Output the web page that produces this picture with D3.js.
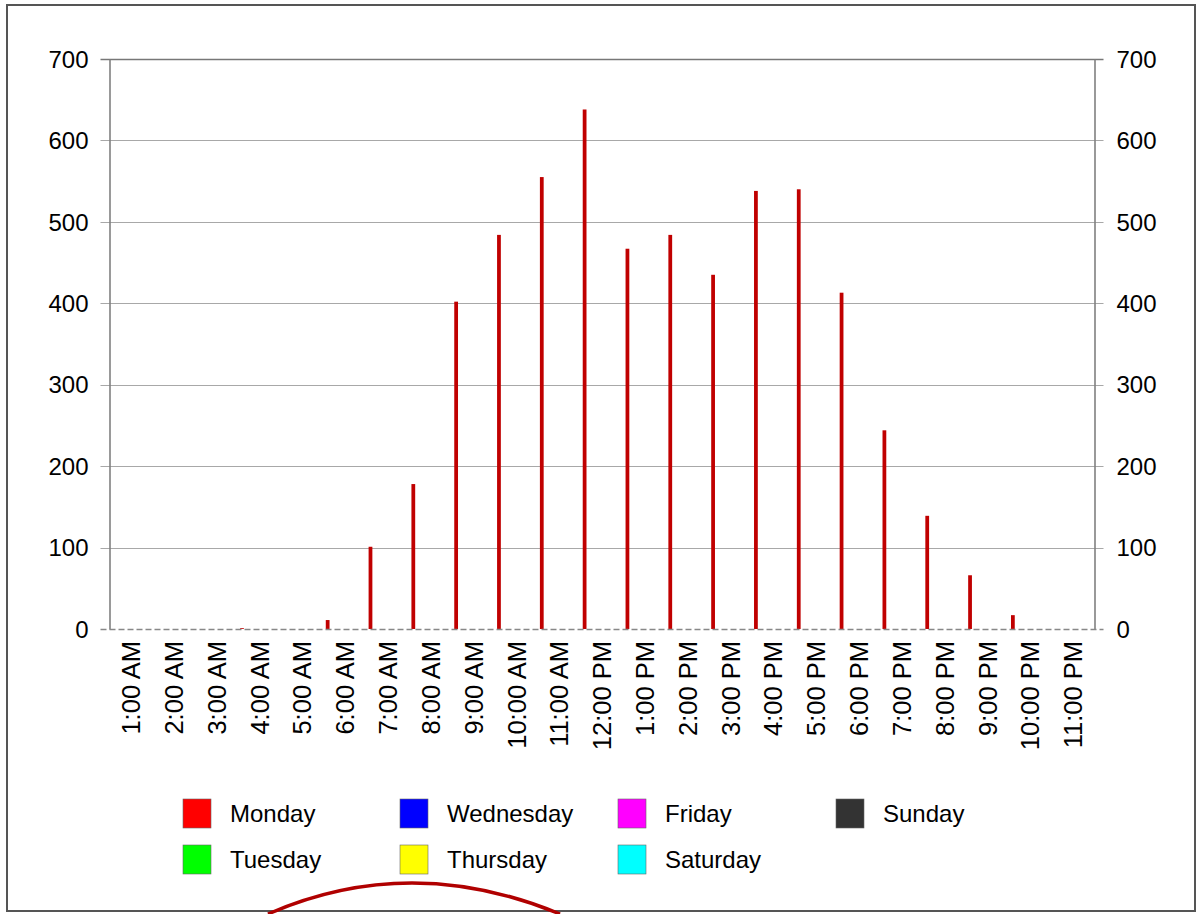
<!DOCTYPE html>
<html>
<head>
<meta charset="utf-8">
<script src="https://cdn.jsdelivr.net/npm/d3@7"></script>
<style>
  html, body { margin: 0; padding: 0; background: #fff; }
  svg text { font-family: "Liberation Sans", Arial, sans-serif; fill: #000; }
</style>
</head>
<body>
<svg id="chart" width="1199" height="914"></svg>
<script>
const hours = ["1:00 AM","2:00 AM","3:00 AM","4:00 AM","5:00 AM","6:00 AM","7:00 AM","8:00 AM","9:00 AM","10:00 AM","11:00 AM","12:00 PM","1:00 PM","2:00 PM","3:00 PM","4:00 PM","5:00 PM","6:00 PM","7:00 PM","8:00 PM","9:00 PM","10:00 PM","11:00 PM"];
const days = ["Monday","Tuesday","Wednesday","Thursday","Friday","Saturday","Sunday"];
const dayColors = ["#ff0000","#00ff00","#0000ff","#ffff00","#ff00ff","#00ffff","#333333"];
const monday    = [0,0,0,1,0,11,101,178,402,484,555,638,467,484,435,538,540,413,244,139,66,17,0];
const tuesday   = [0,0,0,0,0,0,0,0,0,0,0,0,0,0,0,0,0,0,0,0,0,0,0];
const wednesday = [0,0,0,0,0,0,0,0,0,0,0,0,0,0,0,0,0,0,0,0,0,0,0];
const thursday  = [0,0,0,0,0,0,0,0,0,0,0,0,0,0,0,0,0,0,0,0,0,0,0];
const friday    = [0,0,0,0,0,0,0,0,0,0,0,0,0,0,0,0,0,0,0,0,0,0,0];
const saturday  = [0,0,0,0,0,0,0,0,0,0,0,0,0,0,0,0,0,0,0,0,0,0,0];
const sunday    = [0,0,0,0,0,0,0,0,0,0,0,0,0,0,0,0,0,0,0,0,0,0,0];
const yTicks = [0,100,200,300,400,500,600,700];

const seriesValues = [monday,tuesday,wednesday,thursday,friday,saturday,sunday];
const svg = d3.select("#chart");

// outer frame
svg.append("rect").attr("x",7).attr("y",5).attr("width",1188).attr("height",906)
  .attr("fill","none").attr("stroke","#555").attr("stroke-width",2);

const L = 109.5, R = 1094.5, T = 59, B = 629;
const x0 = d3.scaleBand().domain(hours).range([L, R]).paddingInner(0.1).paddingOuter(0.05);
const x1 = d3.scaleBand().domain(days).range([0, x0.bandwidth()]).paddingInner(0.35);
const y = d3.scaleLinear().domain([0,700]).range([B, T]);

// grid
svg.append("g").selectAll("line").data(yTicks.filter(d=>d>0)).join("line")
  .attr("x1", L-9).attr("x2", R+9)
  .attr("y1", d=>Math.round(y(d))+0.5).attr("y2", d=>Math.round(y(d))+0.5)
  .attr("stroke", d=> d===700 ? "#777" : "#a8a8a8").attr("stroke-width", d=> d===700 ? 1.6 : 1.1);

// axes
const yl = svg.append("g").attr("transform",`translate(${L},0)`)
  .call(d3.axisLeft(y).tickValues(yTicks).tickSize(0).tickPadding(21));
yl.select(".domain").attr("stroke","#808080").attr("stroke-width",1.6);
yl.selectAll("text").style("font-size","24px").attr("dy","0.34em");
const yr = svg.append("g").attr("transform",`translate(${R},0)`)
  .call(d3.axisRight(y).tickValues(yTicks).tickSize(0).tickPadding(22));
yr.select(".domain").attr("stroke","#808080").attr("stroke-width",1.6);
yr.selectAll("text").style("font-size","24px").attr("dy","0.34em");

// bars
const groups = svg.append("g").selectAll("g").data(hours).join("g")
  .attr("transform", d=>`translate(${x0(d)},0)`);
groups.selectAll("rect").data((h,i)=>days.map((d,k)=>({day:d, k, v:seriesValues[k][i]})))
  .join("rect")
  .attr("x", d=>x1(d.day)).attr("width", x1.bandwidth())
  .attr("y", d=>y(d.v)).attr("height", d=>B - y(d.v))
  .attr("fill", d=> d.k===0 ? "#c00000" : dayColors[d.k]);

// baseline (dashed)
svg.append("line").attr("x1", L-9).attr("x2", R+9).attr("y1", B+0.5).attr("y2", B+0.5)
  .attr("stroke","#888").attr("stroke-width",1.4).attr("stroke-dasharray","6,3");

// x labels
const xa = svg.append("g").attr("transform",`translate(0,${B})`)
  .call(d3.axisBottom(x0).tickSize(0).tickPadding(0));
xa.select(".domain").remove();
xa.selectAll("text").style("font-size","25.5px")
  .attr("text-anchor","end")
  .attr("transform","rotate(-90)")
  .attr("x",-12).attr("y",0).attr("dy","0.36em");

// legend
const legendPos = [[183,799],[183,845],[400,799],[400,845],[618,799],[618,845],[836,799]];
const lg = svg.append("g").selectAll("g").data(days).join("g")
  .attr("transform",(d,i)=>`translate(${legendPos[i][0]},${legendPos[i][1]})`);
lg.append("rect").attr("width",28).attr("height",29)
  .attr("fill",(d,i)=>dayColors[i]).attr("stroke","#666").attr("stroke-width",0.6);
lg.append("text").attr("x",47).attr("y",23).style("font-size","24px").text(d=>d);

// decorative swoosh at bottom
svg.append("path")
  .attr("d","M 268 914 Q 410 852 560 914")
  .attr("fill","none").attr("stroke","#b00000").attr("stroke-width",3.5);
</script>
</body>
</html>
